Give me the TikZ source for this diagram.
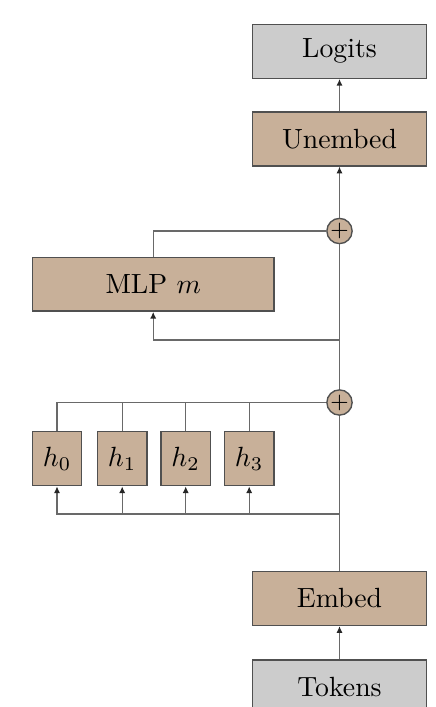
\documentclass[tikz,border=0pt]{standalone}
\usetikzlibrary{arrows.meta}
\definecolor{tan}{RGB}{200,176,153}
\definecolor{boxgray}{RGB}{204,204,204}
\definecolor{edge}{RGB}{80,80,80}
\definecolor{wirecol}{RGB}{105,105,105}
\begin{document}
\begin{tikzpicture}[x=0.36pt,y=-0.36pt,
  blk/.style={draw=edge, line width=0.5pt, inner sep=0pt, minimum height=19.4pt},
  layer/.style={blk, fill=tan},
  io/.style={blk, fill=boxgray, minimum width=62.8pt},
  headbox/.style={layer, minimum width=17.8pt},
  sum/.style={circle, draw=edge, line width=0.5pt, fill=tan, minimum size=9.1pt,
    inner sep=0pt, font=\fontsize{8}{8}\selectfont},
  wire/.style={draw=wirecol, line width=0.45pt},
  arr/.style={wire, -{Latex[length=2.4pt,width=2.2pt,color=black!85]}}]
\useasboundingbox (0,0) rectangle (436,707);
\clip (0,0) rectangle (436,707);

% blocks
\node[io] (logits) at (339.5,51.3) {Logits};
\node[layer, minimum width=62.8pt] (unembed) at (339.5,139) {Unembed};
\node[sum] (plus1) at (339.5,231) {$+$};
\node[layer, minimum width=87pt] (mlp) at (153.2,284.2) {MLP $m$};
\node[sum] (plus2) at (339.5,402.5) {$+$};
\node[headbox] (h0) at (57,458.7) {$h_0$};
\node[headbox] (h1) at (122.2,458.7) {$h_1$};
\node[headbox] (h2) at (185.7,458.7) {$h_2$};
\node[headbox] (h3) at (249.2,458.7) {$h_3$};
\node[layer, minimum width=62.8pt] (embed) at (339.5,598.5) {Embed};
\node[io] (tokens) at (339.5,687) {Tokens};

% branch points on the residual stream
\coordinate (hsplit) at (339.5,514);
\coordinate (msplit) at (339.5,340);

% residual stream
\draw[arr] (tokens) -- (embed);
\draw[wire] (embed) -- (plus2);
\draw[wire] (plus2) -- (plus1);
\draw[arr] (plus1) -- (unembed);
\draw[arr] (unembed) -- (logits);

% attention heads
\foreach \i in {0,...,3} {
  \draw[arr] (hsplit) -| (h\i.south);
  \draw[wire] (h\i.north) |- (plus2.west);
}

% MLP branch
\draw[arr] (msplit) -| (mlp.south);
\draw[wire] (mlp.north) |- (plus1.west);
\end{tikzpicture}
\end{document}
